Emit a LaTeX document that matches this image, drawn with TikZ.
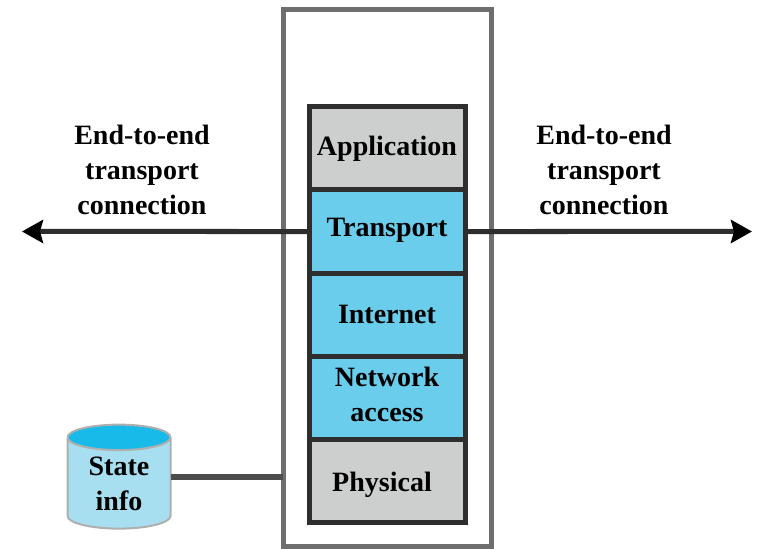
\documentclass[tikz,border=0pt]{standalone}
\usepackage{fontspec}
\setmainfont{Liberation Serif}
\usetikzlibrary{shapes.geometric, arrows.meta, positioning}
\definecolor{layerblue}{HTML}{6ACDEC}
\definecolor{layergray}{HTML}{CCCFCE}
\definecolor{edgegray}{HTML}{2E2E2E}
\definecolor{framegray}{HTML}{6E6E6E}
\definecolor{cylblue}{HTML}{A8DFF0}
\definecolor{cyltop}{HTML}{18BAEA}
\tikzset{
  layer/.style={draw=edgegray, line width=5bp, outer sep=0pt, minimum width=156bp, minimum height=83bp, inner sep=0pt, align=center, font=\fontsize{28bp}{35bp}\selectfont\bfseries},
  caption/.style={align=center, inner sep=0pt, font=\fontsize{28bp}{35bp}\selectfont\bfseries},
  link/.style={draw=edgegray, line width=5bp, -{Stealth[length=21bp,width=23bp,inset=3bp,color=black]}}
}
\begin{document}
\begin{tikzpicture}[x=1bp, y=-1bp]
\useasboundingbox (0,0) rectangle (757,549);
\node [draw=framegray, line width=5bp, outer sep=0pt, minimum width=208bp, minimum height=537bp, inner sep=0pt] (host) at (387,278) {};
\node [layer, fill=layergray] (application) at (387,148.5) {Application};
\node [layer, fill=layerblue, below=0pt of application, text height=20bp, text depth=9.2bp] (transport) {Transport};
\node [layer, fill=layerblue, below=0pt of transport] (internet) {Internet};
\node [layer, fill=layerblue, below=0pt of internet, text depth=6bp] (network) {Network\\access};
\node [layer, fill=layergray, below=0pt of network, text height=24bp, text depth=1.2bp] (physical) {\hspace*{-10bp}Physical};
\coordinate (leftend) at (22,231.5);
\coordinate (rightend) at (752,231.5);
\draw [link] (transport.west) -- (leftend);
\draw [link] (transport.east) -- (rightend);
\node [caption] (leftcap) at (142,169.5) {End-to-end\\transport\\connection};
\node [caption] (rightcap) at (604,169.5) {End-to-end\\transport\\connection};
\node [cylinder, shape border rotate=90, aspect=0.42, draw=framegray!55, line width=2bp, outer sep=0pt, cylinder uses custom fill, cylinder body fill=cylblue, cylinder end fill=cyltop, minimum width=103bp, minimum height=104bp, inner sep=0pt, align=center, font=\fontsize{28bp}{35bp}\selectfont\bfseries] (state) at (119,483.5) {State\\info};
\coordinate (statelink) at (state.east |- 0,477);
\draw [draw=edgegray!85, line width=6bp] (statelink) -- (statelink -| host.west);
\end{tikzpicture}
\end{document}
